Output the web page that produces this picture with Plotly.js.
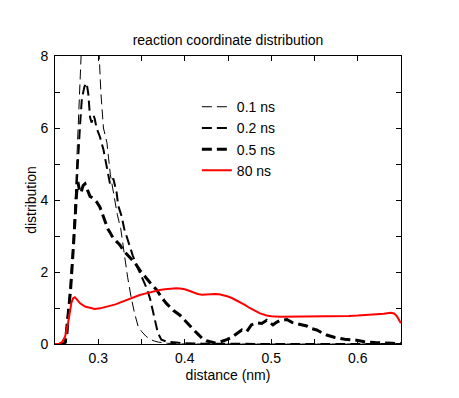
<!DOCTYPE html>
<html>
<head>
<meta charset="utf-8">
<script src="https://cdn.plot.ly/plotly-3.0.1.min.js"></script>
<style>html,body{margin:0;padding:0;background:#fff;}#chart{width:459px;height:398px;}</style>
</head>
<body>
<div id="chart"></div>
<script>
// ---- data ----
const seriesNames = ["0.1 ns", "0.2 ns", "0.5 ns", "80 ns"];

const x01 = [0.255,0.26,0.265,0.27,0.275,0.28,0.285,0.29,0.295,0.30,0.303,0.306,0.31,0.314,0.318,0.322,0.326,0.33,0.334,0.338,0.342,0.346,0.35,0.355,0.36,0.365,0.37,0.38,0.40,0.45,0.50,0.55,0.60,0.65];
const y01 = [0,0,0.3,2.0,5.0,8.6,10.8,11.5,11.0,8.6,7.0,6.0,5.6,4.7,4.1,3.6,3.2,2.5,1.85,1.3,0.85,0.5,0.35,0.22,0.13,0.08,0.05,0.02,0,0,0,0,0,0];

const x02 = [0.255,0.258,0.262,0.265,0.268,0.271,0.273,0.275,0.277,0.279,0.281,0.284,0.2866,0.2885,0.2905,0.2924,0.2945,0.296,0.298,0.302,0.306,0.31,0.3136,0.3174,0.3213,0.323,0.327,0.33,0.335,0.34,0.345,0.348,0.352,0.356,0.36,0.363,0.366,0.369,0.373,0.38,0.39,0.40,0.42,0.45,0.50,0.55,0.60,0.65];
const y02 = [0,0,0.05,0.8,1.6,2.7,3.6,4.4,5.3,6.1,6.8,7.15,7.25,6.95,6.3,6.15,6.35,6.25,6.0,5.75,5.4,4.9,4.45,4.6,4.2,3.85,3.55,3.2,2.8,2.45,2.15,1.98,1.78,1.55,1.25,0.95,0.6,0.3,0.12,0.06,0.04,0.02,0.01,0,0,0,0,0];

const x05 = [0.255,0.258,0.262,0.265,0.268,0.271,0.273,0.275,0.2765,0.278,0.28,0.2825,0.2847,0.287,0.2905,0.294,0.298,0.302,0.305,0.308,0.311,0.3136,0.317,0.321,0.325,0.329,0.333,0.3375,0.3425,0.348,0.354,0.36,0.3676,0.373,0.379,0.387,0.3945,0.40,0.405,0.41,0.415,0.42,0.425,0.43,0.435,0.44,0.445,0.4485,0.454,0.458,0.462,0.466,0.4716,0.477,0.483,0.489,0.4947,0.4986,0.502,0.506,0.51,0.518,0.524,0.529,0.535,0.541,0.545,0.5526,0.558,0.564,0.5737,0.585,0.597,0.608,0.62,0.63,0.64,0.65];
const y05 = [0,0,0.05,0.7,1.5,2.6,3.5,4.2,4.5,4.3,4.2,4.4,4.45,4.3,4.1,4.05,3.95,3.8,3.6,3.4,3.2,3.1,2.95,2.85,2.75,2.6,2.5,2.4,2.25,2.05,1.87,1.7,1.5,1.3,1.12,0.93,0.8,0.65,0.52,0.4,0.28,0.16,0.09,0.05,0.03,0.05,0.08,0.12,0.18,0.25,0.3,0.39,0.34,0.53,0.59,0.57,0.66,0.6,0.53,0.6,0.65,0.68,0.6,0.57,0.53,0.5,0.44,0.39,0.32,0.25,0.18,0.13,0.11,0.06,0.04,0.02,0.02,0.01];

const x80 = [0.25,0.255,0.258,0.2616,0.265,0.267,0.269,0.271,0.273,0.276,0.279,0.2847,0.29,0.296,0.302,0.308,0.314,0.32,0.325,0.33,0.336,0.342,0.348,0.354,0.36,0.366,0.371,0.377,0.383,0.39,0.3945,0.40,0.405,0.41,0.415,0.42,0.425,0.43,0.435,0.44,0.445,0.45,0.455,0.46,0.465,0.47,0.475,0.48,0.487,0.4947,0.50,0.51,0.53,0.55,0.57,0.59,0.60,0.61,0.62,0.63,0.638,0.642,0.645,0.648,0.65];
const y80 = [0,0.01,0.05,0.2,0.57,0.94,1.15,1.27,1.3,1.22,1.13,1.04,1.0,0.97,0.99,1.02,1.06,1.1,1.15,1.2,1.26,1.31,1.36,1.4,1.44,1.48,1.5,1.52,1.54,1.55,1.54,1.52,1.48,1.43,1.39,1.37,1.38,1.39,1.39,1.38,1.36,1.32,1.27,1.21,1.15,1.08,1.0,0.93,0.85,0.79,0.77,0.76,0.76,0.77,0.77,0.78,0.79,0.8,0.82,0.84,0.87,0.85,0.78,0.68,0.58];

const xTickVals = [0.3, 0.4, 0.5, 0.6];
const xTickText = ["0.3", "0.4", "0.5", "0.6"];
const yTickVals = [0, 2, 4, 6, 8];
const yTickText = ["0", "2", "4", "6", "8"];

const titleText = "reaction coordinate distribution";
const xTitle = "distance (nm)";
const yTitle = "distribution";

// ---- chart ----
const font = "Liberation Sans, Arial, Helvetica, sans-serif";
const fs = 14;
const traces = [
  {x: x01, y: y01, name: seriesNames[0], mode: "lines", line: {color: "#000", width: 1, dash: "10px,5px"}},
  {x: x02, y: y02, name: seriesNames[1], mode: "lines", line: {color: "#000", width: 2, dash: "10px,5px"}},
  {x: x05, y: y05, name: seriesNames[2], mode: "lines", line: {color: "#000", width: 3, dash: "10px,5px"}},
  {x: x80, y: y80, name: seriesNames[3], mode: "lines", line: {color: "#ff0000", width: 2}}
];

const axisCommon = {
  showgrid: false, zeroline: false, showline: true, linecolor: "#000", linewidth: 1,
  mirror: "ticks", ticks: "inside", ticklen: 5, tickcolor: "#000", tickwidth: 1,
  tickfont: {family: font, size: fs, color: "#000"}
};

const layout = {
  width: 459, height: 398,
  margin: {l: 55, r: 58, t: 56, b: 54},
  paper_bgcolor: "#fff", plot_bgcolor: "#fff",
  font: {family: font, size: fs, color: "#000"},
  title: {text: titleText, x: 0.5, xref: "paper", y: 1 - 40 / 398, yanchor: "middle", font: {family: font, size: fs, color: "#000"}},
  xaxis: Object.assign({}, axisCommon, {
    range: [0.25, 0.65], tickmode: "array", tickvals: xTickVals, ticktext: xTickText,
    ticklabelstandoff: 1,
    minor: {dtick: 0.05, tick0: 0.25, ticks: "inside", ticklen: 5, tickcolor: "#000", showgrid: false},
    title: {text: xTitle, font: {family: font, size: fs, color: "#000"}, standoff: 5}
  }),
  yaxis: Object.assign({}, axisCommon, {
    range: [0, 8], tickmode: "array", tickvals: yTickVals, ticktext: yTickText,
    ticklabelstandoff: 3,
    minor: {dtick: 1, tick0: 0, ticks: "inside", ticklen: 5, tickcolor: "#000", showgrid: false},
    title: {text: yTitle, font: {family: font, size: fs, color: "#000"}, standoff: 0}
  }),
  showlegend: true,
  legend: {x: 0.41, y: 0.878, xanchor: "left", yanchor: "top", bgcolor: "rgba(0,0,0,0)",
           font: {family: font, size: fs, color: "#000"}, traceorder: "normal", tracegroupgap: 0}
};

Plotly.newPlot("chart", traces, layout, {staticPlot: true, displayModeBar: false});
</script>
</body>
</html>
